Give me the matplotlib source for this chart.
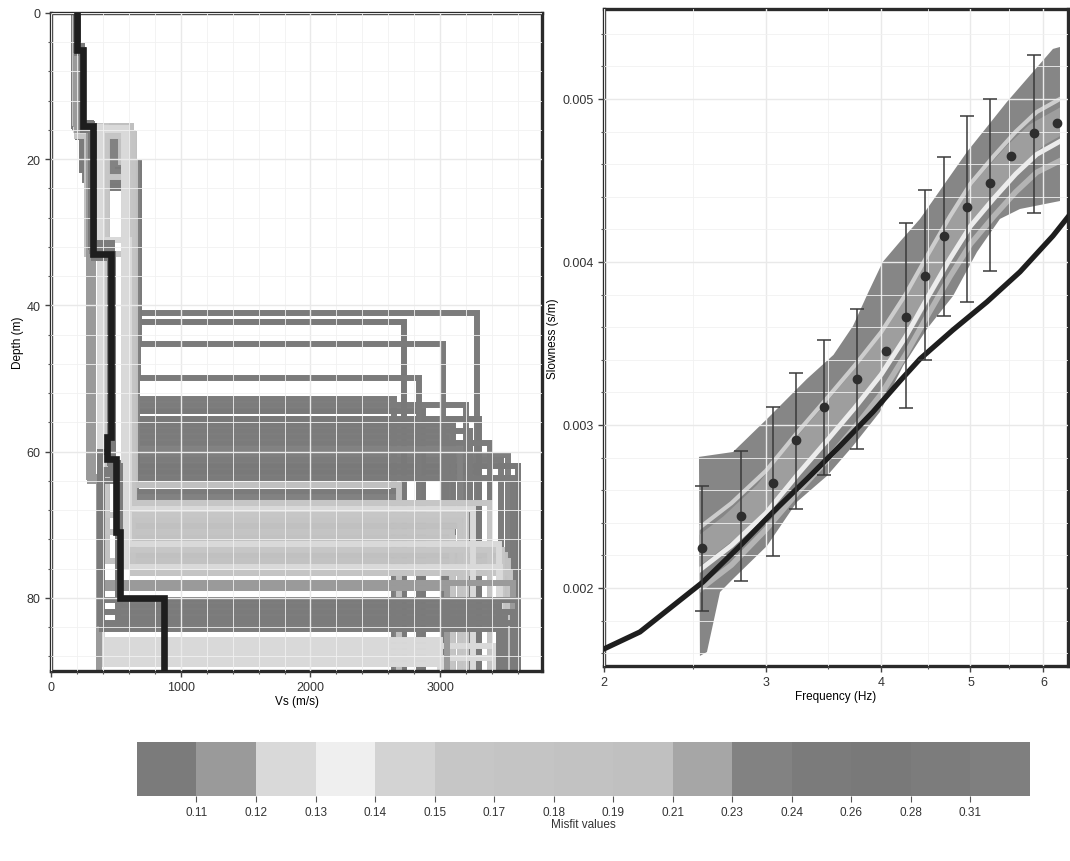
import numpy as np
import matplotlib.pyplot as plt
from matplotlib.colors import ListedColormap, BoundaryNorm
from matplotlib.cm import ScalarMappable
from matplotlib.ticker import MultipleLocator, FixedLocator, NullFormatter, FormatStrFormatter

plt.rcParams['font.family'] = ['Liberation Sans', 'DejaVu Sans']

# --------------------------------------------------
# misfit palette (15 classes, grey levels of the scan)
# --------------------------------------------------
misfit_bounds = [0.10, 0.11, 0.12, 0.13, 0.14, 0.15, 0.17, 0.18, 0.19,
                 0.21, 0.23, 0.24, 0.26, 0.28, 0.31, 0.33]
misfit_grays = ['#7b7b7b', '#9a9a9a', '#d9d9d9', '#efefef', '#d3d3d3',
                '#c6c6c6', '#c4c4c4', '#c2c2c2', '#c0c0c0', '#a6a6a6',
                '#828282', '#7b7b7b', '#797979', '#7c7c7c', '#7f7f7f']
misfit_ticks = misfit_bounds[1:-1]

# --------------------------------------------------
# Vs profiles: misfit, layer velocities (m/s), layer bottoms (m)
# --------------------------------------------------
profile_misfit = [
    0.29, 0.27, 0.25, 0.245,
    0.30, 0.285, 0.275, 0.265, 0.255, 0.25, 0.245, 0.24, 0.235, 0.31,
    0.30, 0.27, 0.26, 0.25, 0.24, 0.235,
    0.20,
    0.16, 0.128, 0.155, 0.175, 0.195, 0.172, 0.18, 0.125, 0.165, 0.19,
    0.185, 0.127, 0.17,
    0.128, 0.126, 0.124, 0.122, 0.121,
    0.118, 0.116, 0.114,
    0.109, 0.108, 0.107, 0.106, 0.105, 0.104,
]
profile_vs = [
    [190, 250, 680, 3285], [205, 560, 680, 2720], [180, 240, 675, 3020], [195, 330, 670, 2835],
    [200, 580, 655, 2640], [185, 270, 650, 3200], [210, 520, 660, 2870], [190, 300, 655, 3300],
    [200, 450, 650, 3100], [195, 280, 660, 3230], [205, 600, 655, 3050], [185, 320, 650, 3380],
    [200, 500, 660, 3150], [190, 260, 655, 3520], [210, 570, 650, 3470], [195, 300, 660, 3600],
    [200, 480, 655, 3300], [185, 290, 650, 3560], [190, 310, 655, 2660], [205, 470, 650, 2670],
    [200, 540, 650, 2680],
    [195, 300, 610, 3380], [190, 560, 3250], [200, 420, 3200], [185, 280, 590, 3150],
    [200, 640, 3180], [195, 410, 3090], [210, 560, 3100], [190, 300, 600, 3450],
    [200, 600, 3480], [195, 620, 3500], [205, 430, 3520], [190, 580, 3460], [200, 630, 3540],
    [200, 300, 380, 3000], [195, 390, 3420], [205, 380, 3000], [190, 385, 3430], [200, 375, 3010],
    [200, 300, 380, 3560], [195, 290, 390, 3050], [200, 320, 370],
    [200, 250, 330, 470, 380, 3600], [205, 240, 310, 460, 530, 3450],
    [195, 245, 325, 475, 385, 3560], [200, 250, 315, 455, 520, 3500],
    [200, 240, 320, 470, 380, 3590], [205, 245, 330, 465, 390, 3470],
]
profile_depth = [
    [15.0, 21.0, 41.1], [16.5, 20.5, 42.2], [15.5, 21.5, 45.3], [16.0, 22.0, 49.9],
    [16.8, 20.8, 52.8], [15.2, 22.5, 53.6], [17.0, 21.0, 54.4], [15.5, 23.0, 55.6],
    [16.5, 21.5, 56.4], [15.0, 22.0, 57.2], [17.0, 21.0, 58.0], [15.8, 24.0, 58.8],
    [16.6, 20.6, 59.6], [15.3, 22.8, 60.4], [16.9, 20.9, 61.2], [15.6, 23.5, 62.0],
    [16.2, 21.2, 62.8], [15.1, 22.2, 63.6], [15.4, 23.0, 65.5], [16.7, 21.7, 66.2],
    [16.4, 20.4, 64.5],
    [15.6, 22.5, 67.0], [16.0, 67.8], [15.4, 68.6], [15.0, 33.0, 69.4],
    [16.6, 70.2], [15.9, 71.0], [16.3, 71.8], [15.2, 31.0, 72.6],
    [16.8, 73.4], [15.5, 74.2], [16.1, 75.0], [15.7, 75.8], [16.4, 76.6],
    [15.3, 64.0, 85.8], [15.9, 86.6], [16.2, 87.4], [15.6, 88.2], [16.0, 89.0],
    [15.5, 64.0, 77.9], [15.2, 63.5, 78.7], [16.0, 64.0],
    [5.5, 16.0, 33.5, 60.0, 80.3], [4.5, 15.0, 32.0, 62.0, 81.1],
    [5.0, 15.8, 33.0, 64.0, 81.9], [5.2, 15.2, 32.5, 61.5, 82.7],
    [4.8, 15.6, 31.5, 63.0, 83.5], [5.4, 15.4, 33.2, 62.5, 84.3],
]

# best model
best_vs = [200, 245, 320, 465, 435, 500, 530, 870]
best_depth = [5.0, 15.5, 33.0, 58.0, 61.0, 71.0, 80.0]
depth_max = 90

# --------------------------------------------------
# dispersion data
# --------------------------------------------------
freq_obs = [2.555, 2.817, 3.05, 3.23, 3.47, 3.765, 4.05, 4.26, 4.46, 4.68,
            4.96, 5.25, 5.53, 5.86, 6.21]
slow_obs = [0.002245, 0.002442, 0.002644, 0.002908, 0.00311, 0.003282, 0.003454,
            0.003663, 0.003914, 0.00416, 0.004337, 0.004485, 0.00465, 0.004791, 0.004853]
slow_hi = [0.002626, 0.00284, 0.00311, 0.003319, 0.003521, 0.003711, np.nan,
           0.004239, 0.004442, 0.004644, 0.004896, 0.005, np.nan, 0.00527, np.nan]
slow_lo = [0.001859, 0.002043, 0.002196, 0.002485, 0.002693, 0.002853, np.nan,
           0.003104, 0.003399, 0.003669, 0.003755, 0.003945, np.nan, 0.0043, np.nan]

# envelope of the computed curves
band_up_f = [2.536, 2.761, 3.014, 3.321, 3.55, 3.727, 3.87, 4.015, 4.2, 4.407,
             4.956, 5.477, 6.145, 6.254]
band_up_s = [0.002804, 0.002834, 0.003043, 0.003282, 0.00343, 0.003607, 0.00381,
             0.0040, 0.00413, 0.004264, 0.004675, 0.004982, 0.005307, 0.005319]
band_lo_f = [6.254, 5.658, 5.382, 5.082, 4.786, 4.484, 4.224, 3.987, 3.727, 3.492,
             3.24, 3.006, 2.761, 2.673, 2.587, 2.542]
band_lo_s = [0.004374, 0.004325, 0.004264, 0.004061, 0.003791, 0.003589, 0.003362,
             0.00308, 0.002871, 0.002687, 0.002528, 0.002258, 0.002055, 0.001975,
             0.001607, 0.001583]

# lighter curves inside the envelope
stripe_f = [2.5, 2.75, 3.0, 3.25, 3.5, 3.75, 4.0, 4.25, 4.5, 4.75, 5.0, 5.3, 5.6, 5.9, 6.3]
stripe_mid = [0.00220, 0.00238, 0.00258, 0.00282, 0.00303, 0.00323, 0.00343, 0.00366,
              0.00391, 0.00414, 0.00434, 0.00451, 0.00466, 0.00478, 0.00487]
stripe_below = [0.00208, 0.00226, 0.00246, 0.00270, 0.00291, 0.00311, 0.00331, 0.00354,
                0.00379, 0.00402, 0.00422, 0.00439, 0.00454, 0.00466, 0.00475]
stripe_above = [0.00234, 0.00252, 0.00272, 0.00296, 0.00317, 0.00337, 0.00357, 0.00380,
                0.00405, 0.00428, 0.00448, 0.00465, 0.00480, 0.00492, 0.00501]
stripe_low = [0.00196, 0.00214, 0.00236, 0.00259, 0.00279, 0.00299, 0.00319, 0.00343,
              0.00368, 0.00391, 0.00411, 0.00428, 0.00443, 0.00455, 0.00463]

# curve of the best model
theo_f = [2.0, 2.188, 2.562, 2.81, 3.052, 3.323, 3.608, 3.918, 4.192, 4.407,
          4.786, 5.21, 5.658, 6.145, 6.38]
theo_s = [0.001626, 0.00173, 0.002037, 0.002258, 0.002466, 0.002669, 0.002871,
          0.00308, 0.00327, 0.003405, 0.003583, 0.003755, 0.003939, 0.00416, 0.004276]


def staircase(vs, bottoms, zmax):
    """Turn layer velocities / bottoms into a step line."""
    z = [0.0]
    for b in bottoms:
        z += [b, b]
    z.append(zmax)
    v = []
    for s in vs:
        v += [s, s]
    return v, z


cmap = ListedColormap(misfit_grays)
norm = BoundaryNorm(misfit_bounds, cmap.N)

fig = plt.figure(figsize=(10.7, 8.62), dpi=100)
ax1 = fig.add_axes([0.0477, 0.2204, 0.4589, 0.7634])
ax2 = fig.add_axes([0.5645, 0.2262, 0.4336, 0.7622])
cax = fig.add_axes([0.128, 0.0754, 0.8346, 0.0626])

spine_col = '#2a2a2a'
grid_major = '#e9e9e9'
grid_minor = '#f1f1f1'

# --------------------------------------------------
# left: Vs profiles
# --------------------------------------------------
order = np.argsort(profile_misfit)[::-1]   # worst first, best on top
for i in order:
    v, z = staircase(profile_vs[i], profile_depth[i], depth_max)
    ax1.plot(v, z, color=cmap(norm(profile_misfit[i])), lw=4.3,
             solid_joinstyle='miter', zorder=2)

v, z = staircase(best_vs, best_depth, depth_max)
ax1.plot(v, z, color='#1e1e1e', lw=4.8, solid_joinstyle='miter', zorder=3)

ax1.set_xlim(0, 3785)
ax1.set_ylim(depth_max, 0)
ax1.xaxis.set_major_locator(MultipleLocator(1000))
ax1.xaxis.set_minor_locator(MultipleLocator(200))
ax1.yaxis.set_major_locator(MultipleLocator(20))
ax1.yaxis.set_minor_locator(MultipleLocator(4))
ax1.set_axisbelow(False)
ax1.grid(True, which='major', color=grid_major, lw=1.0)
ax1.grid(True, which='minor', color=grid_minor, lw=0.6)
ax1.set_xlabel('Vs (m/s)', fontsize=8.5, labelpad=1)
ax1.set_ylabel('Depth (m)', fontsize=8.5, labelpad=2)

# --------------------------------------------------
# right: dispersion curves
# --------------------------------------------------
band = ax2.fill(band_up_f + band_lo_f, band_up_s + band_lo_s,
                color='#868686', lw=0, zorder=1)[0]
for s, c, w in [(stripe_mid, '#9e9e9e', 18), (stripe_low, '#b4b4b4', 4),
                (stripe_above, '#cdcdcd', 3), (stripe_below, '#ececec', 3.5)]:
    ln, = ax2.plot(stripe_f, s, color=c, lw=w, zorder=1.5)
    ln.set_clip_path(band)

ax2.plot(theo_f, theo_s, color='#1e1e1e', lw=3.8, zorder=3)

f_arr = np.array(freq_obs)
s_arr = np.array(slow_obs)
hi = np.array(slow_hi)
lo = np.array(slow_lo)
has_err = ~np.isnan(hi)
ax2.errorbar(f_arr[has_err], s_arr[has_err],
             yerr=[s_arr[has_err] - lo[has_err], hi[has_err] - s_arr[has_err]],
             fmt='none', ecolor='#3a3a3a', elinewidth=1.1, capsize=5, capthick=1.1,
             zorder=4)
ax2.plot(f_arr, s_arr, 'o', color='#2e2e2e', ms=6, zorder=5)

ax2.set_xscale('log')
ax2.set_xlim(2, 6.38)
ax2.set_ylim(0.001521, 0.005552)
ax2.xaxis.set_major_locator(FixedLocator([2, 3, 4, 5, 6]))
ax2.xaxis.set_major_formatter(FormatStrFormatter('%g'))
ax2.xaxis.set_minor_locator(FixedLocator([2.5, 3.5, 4.5, 5.5]))
ax2.xaxis.set_minor_formatter(NullFormatter())
ax2.yaxis.set_major_locator(MultipleLocator(0.001))
ax2.yaxis.set_major_formatter(FormatStrFormatter('%.3f'))
ax2.yaxis.set_minor_locator(MultipleLocator(0.0002))
ax2.set_axisbelow(False)
ax2.grid(True, which='major', color=grid_major, lw=1.0)
ax2.grid(True, which='minor', color=grid_minor, lw=0.6)
ax2.set_xlabel('Frequency (Hz)', fontsize=8.5, labelpad=1)
ax2.set_ylabel('Slowness (s/m)', fontsize=8.5, labelpad=2)

for ax in (ax1, ax2):
    for sp in ax.spines.values():
        sp.set_linewidth(2.4)
        sp.set_color(spine_col)
    ax.tick_params(which='major', labelsize=9, length=4, width=1, color='#444444',
                   labelcolor='#333333')
    ax.tick_params(which='minor', length=2.5, width=0.8, color='#555555')

# --------------------------------------------------
# misfit scale
# --------------------------------------------------
sm = ScalarMappable(norm=norm, cmap=cmap)
cb = fig.colorbar(sm, cax=cax, orientation='horizontal', spacing='uniform',
                  ticks=misfit_ticks)
cb.outline.set_visible(False)
cb.ax.minorticks_off()
cb.ax.set_xticklabels([f'{t:.2f}' for t in misfit_ticks])
cb.ax.tick_params(labelsize=8.5, length=4, width=0.8, color='#555555',
                  labelcolor='#333333')
cb.set_label('Misfit values', fontsize=8.5, labelpad=0, color='#333333')

plt.savefig('out.png', dpi=100)
